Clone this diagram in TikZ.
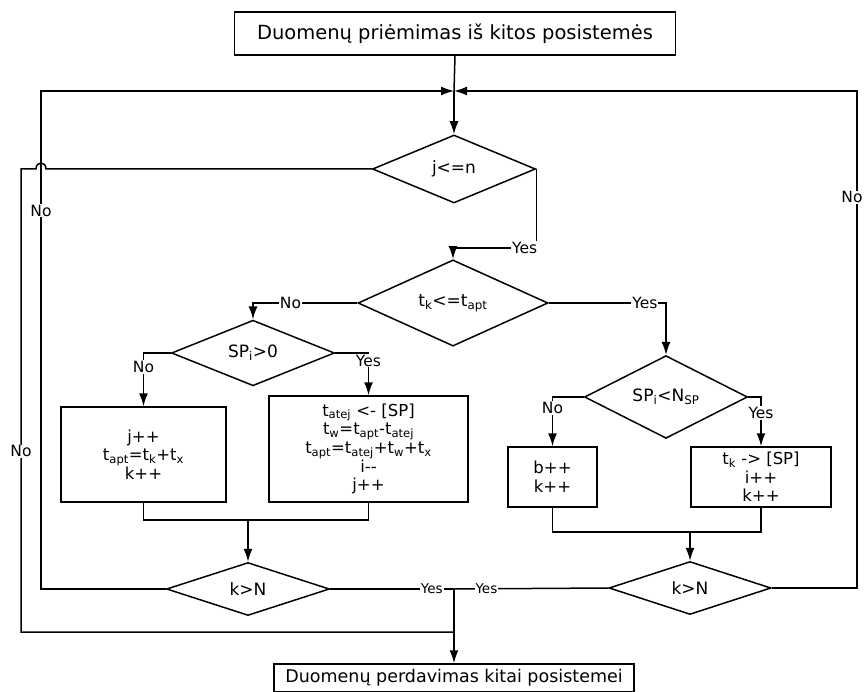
\documentclass[tikz,border=0pt]{standalone}
\usepackage{fontspec}
\setmainfont{DejaVu Sans}
\usetikzlibrary{arrows.meta,shapes.geometric}
\tikzset{
  fc-line/.style={line width=1.5pt},
  fc-arrow/.style={line width=1.5pt, -{Latex[length=13pt,width=9pt]}},
  fc-box/.style={draw, line width=1.5pt, align=center, inner sep=0pt,
    font=\fontsize{16.5}{18.7}\selectfont},
  fc-io/.style={draw, line width=1.5pt, align=center, inner sep=0pt},
  fc-decision/.style={draw, diamond, line width=1.5pt, inner sep=0pt,
    font=\fontsize{17}{19}\selectfont},
  fc-label/.style={fill=white, inner sep=1pt, font=\fontsize{15.5}{18}\selectfont},
  fc-small/.style={fill=white, inner sep=1pt, font=\fontsize{13.5}{15}\selectfont}
}
\newcommand\sbs[1]{\textsubscript{#1}}

\begin{document}
\begin{tikzpicture}[x=1pt, y=-1pt]
  \useasboundingbox (0,0) rectangle (864,692);

  % Input and output boxes
  \node[fc-io, minimum width=441pt, minimum height=43pt, font=\fontsize{19.5}{22}\selectfont] (top) at (455,33.5) {Duomenų priėmimas iš kitos posistemės};
  \node[fc-io, minimum width=360pt, minimum height=28pt, font=\fontsize{17.5}{20}\selectfont] (fin) at (454,678) {Duomenų perdavimas kitai posistemei};

  % Decisions
  \foreach \name/\x/\y/\w/\h/\title in {dj/454/169/163/68/{j<=n}, dt/453/303/190/62/{t\sbs{k}<=t\sbs{apt}},
      dsp/253/353/163/52/{SP\sbs{i}>0}, dsn/666/397/163/55/{SP\sbs{i}<N\sbs{SP}},
      dkl/248/589/163/53/{k>N}, dkr/690/588/162/53/{k>N}} {
    \node[fc-decision, minimum width=\w pt, minimum height=\h pt] (\name) at (\x,\y) {\title};
  }

  % Process boxes
  \node[fc-box, minimum width=165pt, minimum height=95pt] (bl) at (143.5,454.5) {j++\\t\sbs{apt}=t\sbs{k}+t\sbs{x}\\k++};
  \node[fc-box, minimum width=199pt, minimum height=106pt] (br) at (368.5,449) {t\sbs{atej} <- [SP]\\t\sbs{w}=t\sbs{apt}-t\sbs{atej}\\t\sbs{apt}=t\sbs{atej}+t\sbs{w}+t\sbs{x}\\i-{}-\\j++};
  \node[fc-box, minimum width=89pt, minimum height=60pt] (bb) at (552.5,477) {b++\\k++};
  \node[fc-box, minimum width=140pt, minimum height=60pt] (btk) at (761,477) {t\sbs{k} -> [SP]\\i++\\k++};

  % Helper points
  \coordinate (mrg) at (454,91);
  \coordinate (lt) at (41,91);
  \coordinate (rt) at (857,91);
  \coordinate (yj) at (453,248);
  \coordinate (jl) at (248,520);
  \coordinate (jr) at (690,532);
  \coordinate (yx) at (454,589);
  \coordinate (ox) at (454,632);

  % Entry
  \draw[fc-line] (top.south) -- (mrg);
  \draw[fc-arrow] (mrg) -- (dj.north);

  % j<=n
  \draw[fc-arrow] (dj.east) |- node[fc-label, pos=0.57] (lyj) {Yes} (yj) -- (dt.north);
  \draw[fc-line] (dj.west) -- (46,169) .. controls (46,161) and (36,161) .. (36,169) -- (21,169)
    -- node[fc-label, pos=0.61] (lnj) {No} (21,632) -- (ox);

  % t_k<=t_apt
  \draw[fc-arrow] (dt.west) -| node[fc-label, pos=0.32] (lnt) {No} (dsp.north);
  \draw[fc-arrow] (dt.east) -| node[fc-label, pos=0.41] (lyt) {Yes} (dsn.north);

  % SP_i>0 and SP_i<N_SP
  \draw[fc-arrow] (dsp.west) -| node[fc-label, pos=0.63] (lnsp) {No} (bl.north);
  \draw[fc-arrow] (dsp.east) -| node[fc-label, pos=0.59] (lysp) {Yes} (br.north);
  \draw[fc-arrow] (dsn.west) -| node[fc-label, pos=0.61] (lnsn) {No} (bb.north);
  \draw[fc-arrow] (dsn.east) -| node[fc-label, pos=0.66] (lysn) {Yes} (btk.north);

  % Joins into k>N
  \draw[fc-line] (bl.south) |- (jl) -| (br.south);
  \draw[fc-arrow] (jl) -- (dkl.north);
  \draw[fc-line] (bb.south) |- (jr) -| (btk.south);
  \draw[fc-arrow] (jr) -- (dkr.north);

  % k>N loops back
  \draw[fc-arrow] (dkl.west) -| node[fc-label, pos=0.88] (lnkl) {No} (lt) -- (mrg);
  \draw[fc-arrow] (dkr.east) -| node[fc-label, pos=0.893, xshift=-5pt] (lnkr) {No} (rt) -- (mrg);

  % Exit
  \draw[fc-line] (dkl.east) -- node[fc-small, pos=0.82] (lykl) {Yes} (yx);
  \draw[fc-line] (dkr.west) -- node[fc-small, pos=0.79] (lykr) {Yes} (yx);
  \draw[fc-arrow] (yx) -- (fin.north);
\end{tikzpicture}
\end{document}
